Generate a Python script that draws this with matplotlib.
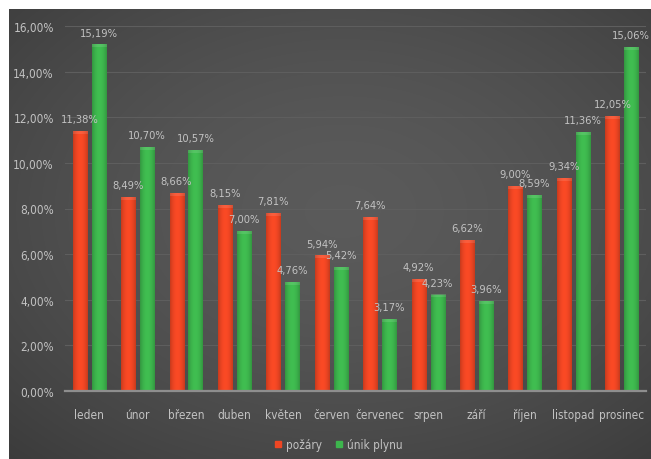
import numpy as np
import matplotlib.pyplot as plt
from matplotlib.colors import to_rgb
from matplotlib.lines import Line2D

months = ["leden", "únor", "březen", "duben", "květen", "červen",
          "červenec", "srpen", "září", "říjen", "listopad", "prosinec"]
pozary = [11.38, 8.49, 8.66, 8.15, 7.81, 5.94, 7.64, 4.92, 6.62, 9.00, 9.34, 12.05]
unik_plynu = [15.19, 10.70, 10.57, 7.00, 4.76, 5.42, 3.17, 4.23, 3.96, 8.59, 11.36, 15.06]
series_names = ["požáry", "únik plynu"]
y_ticks = list(range(0, 17, 2))

RED = "#ef4623"
GREEN = "#3db54d"
TEXT = "#c2c2c2"

plt.rcParams["font.family"] = ["DejaVu Sans"]
plt.rcParams["font.stretch"] = "condensed"

W, H = 651, 460
fig = plt.figure(figsize=(W / 100, H / 100), dpi=100, facecolor="white")

# dark panel with a soft radial gradient
bg = fig.add_axes([9 / W, 0, 1 - 9 / W, 1 - 10 / H], zorder=0)
yy, xx = np.mgrid[0:1:240j, 0:1:320j]
r = np.sqrt(((xx - 0.52) / 0.75) ** 2 + ((yy - 0.45) / 0.75) ** 2)
val = 0.355 - 0.12 * np.clip(r, 0, 1.2) ** 1.6
bg.imshow(np.dstack([val, val, val]), aspect="auto", extent=[0, 1, 0, 1],
          interpolation="bilinear")
bg.set_axis_off()

ax = fig.add_axes([65 / W, 1 - 392 / H, (646 - 65) / W, (392 - 27) / H], zorder=1)
ax.set_facecolor("none")

x = np.arange(len(months))
w = 0.29
off = 0.195


def shade_bars(bars, color):
    # cylinder-like shading across each bar plus a light top cap
    base = np.array(to_rgb(color))
    t = np.linspace(-1, 1, 64)
    k = 1.05 - 0.22 * t ** 2
    body = np.clip(base[None, :] * k[:, None], 0, 1)[None, :, :]
    cap = np.clip(body * 0.75 + 0.25, 0, 1)
    for b in bars:
        x0, y0 = b.get_x(), b.get_y()
        bw, bh = b.get_width(), b.get_height()
        im = ax.imshow(body, extent=[x0, x0 + bw, y0, y0 + bh], aspect="auto",
                       zorder=3, interpolation="bilinear")
        im.set_clip_path(b)
        ch = min(0.13, bh)
        ax.imshow(cap, extent=[x0, x0 + bw, y0 + bh - ch, y0 + bh], aspect="auto",
                  zorder=3.1, interpolation="bilinear", alpha=0.45)


bars_r = ax.bar(x - off, pozary, w, color=RED, zorder=2)
bars_g = ax.bar(x + off, unik_plynu, w, color=GREEN, zorder=2)
shade_bars(bars_r, RED)
shade_bars(bars_g, GREEN)

for xs, vals in ((x - off, pozary), (x + off, unik_plynu)):
    for xi, v in zip(xs, vals):
        ax.annotate(f"{v:.2f}".replace(".", ",") + "%", xy=(xi, v), xytext=(0, 5),
                    textcoords="offset points", ha="center", va="bottom",
                    color=TEXT, fontsize=8, zorder=4)

ax.set_xlim(-0.5, len(months) - 0.5)
ax.set_ylim(0, 16)
ax.set_yticks(y_ticks)
ax.set_yticklabels([f"{t:.2f}".replace(".", ",") + "%" for t in y_ticks])
ax.set_xticks(x)
ax.set_xticklabels(months)
ax.tick_params(axis="y", length=0, pad=8, labelsize=8.5, labelcolor=TEXT)
ax.tick_params(axis="x", length=0, pad=12, labelsize=8.5, labelcolor=TEXT)
ax.yaxis.grid(True, color="#5e5e5e", linewidth=0.8)
ax.set_axisbelow(True)
for side in ("top", "right", "left"):
    ax.spines[side].set_visible(False)
ax.spines["bottom"].set_color("#8e8e8e")
ax.spines["bottom"].set_linewidth(1.6)
ax.spines["bottom"].set_zorder(5)

handles = [Line2D([], [], marker="s", linestyle="none", markersize=5,
                  markerfacecolor=c, markeredgecolor=c) for c in (RED, GREEN)]
fig.legend(handles, series_names, loc="center", bbox_to_anchor=(338 / W, 1 - 446 / H),
           ncol=2, frameon=False, fontsize=8.5, labelcolor=TEXT,
           handletextpad=0.3, columnspacing=1.0, handlelength=0.8)

fig.savefig("out.png", dpi=100, facecolor="white")
